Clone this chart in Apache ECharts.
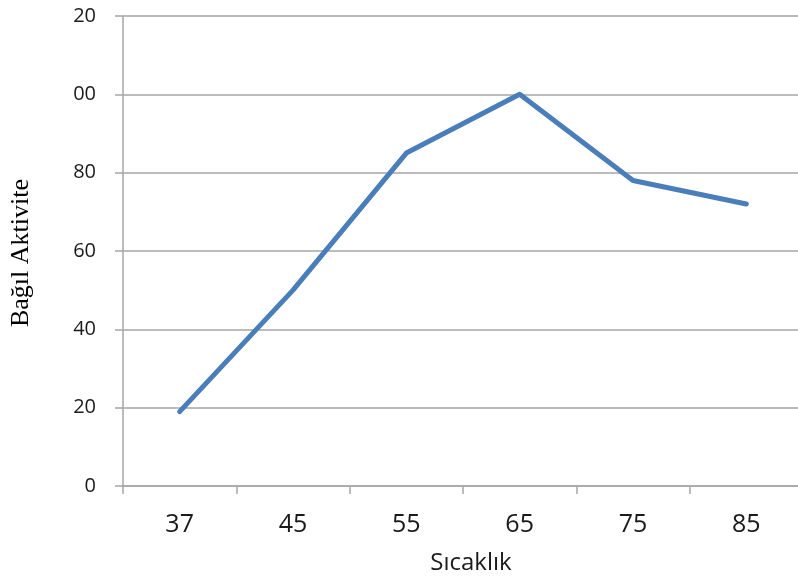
<!DOCTYPE html>
<html>
<head>
<meta charset="utf-8">
<script src="https://cdn.jsdelivr.net/npm/echarts@6/dist/echarts.min.js"></script>
<style>
  html, body { margin: 0; padding: 0; background: #ffffff; overflow: hidden; width: 798px; height: 580px; }
  /* canvas is a little wider than the window so the plot area runs past the right edge */
  #chart { width: 804px; height: 580px; }
</style>
</head>
<body>
<div id="chart"></div>
<script>
// Temperature (°C) on the category axis
var temperatures = ['37', '45', '55', '65', '75', '85'];
// Relative activity at each temperature
var relativeActivity = [19, 50, 85, 100, 78, 72];
// Y tick labels, as printed on the axis
var yTickLabels = ['0', '20', '40', '60', '80', '00', '20'];

var chart = echarts.init(document.getElementById('chart'), null, { renderer: 'canvas' });

var gridColor = '#a6a6a6';

chart.setOption({
  animation: false,
  backgroundColor: '#ffffff',
  grid: { left: 123, width: 680, top: 16, height: 470, containLabel: false },
  xAxis: {
    type: 'category',
    data: temperatures,
    boundaryGap: true,
    axisLine: { show: true, lineStyle: { color: gridColor, width: 1.5 } },
    axisTick: { show: true, alignWithLabel: false, length: 8, lineStyle: { color: gridColor, width: 1.5 } },
    axisLabel: {
      margin: 26,
      color: '#1a1a1a',
      fontFamily: 'Open Sans',
      fontSize: 25
    },
    splitLine: { show: false }
  },
  yAxis: {
    type: 'value',
    min: 0,
    max: 120,
    interval: 20,
    axisLine: { show: true, lineStyle: { color: gridColor, width: 1.5 } },
    axisTick: { show: true, length: 8, lineStyle: { color: gridColor, width: 1.5 } },
    axisLabel: {
      margin: 27,
      color: '#1a1a1a',
      fontFamily: 'Open Sans',
      fontSize: 20,
      formatter: function (v) { return yTickLabels[Math.round(v / 20)]; }
    },
    splitLine: { show: true, lineStyle: { color: gridColor, width: 1.5 } }
  },
  graphic: [
    {
      type: 'text',
      x: 471,
      y: 563,
      style: {
        text: 'Sıcaklık',
        fill: '#1a1a1a',
        font: '24px "Open Sans"',
        align: 'center',
        verticalAlign: 'middle'
      }
    },
    {
      type: 'text',
      x: 21,
      y: 253,
      rotation: Math.PI / 2,
      style: {
        text: 'Bağıl Aktivite',
        fill: '#000000',
        font: '26px "Liberation Serif"',
        align: 'center',
        verticalAlign: 'middle'
      }
    }
  ],
  series: [
    {
      type: 'line',
      data: relativeActivity,
      symbol: 'none',
      smooth: false,
      lineStyle: { color: '#4a7ebb', width: 5, cap: 'round', join: 'round' }
    }
  ]
});
</script>
</body>
</html>
